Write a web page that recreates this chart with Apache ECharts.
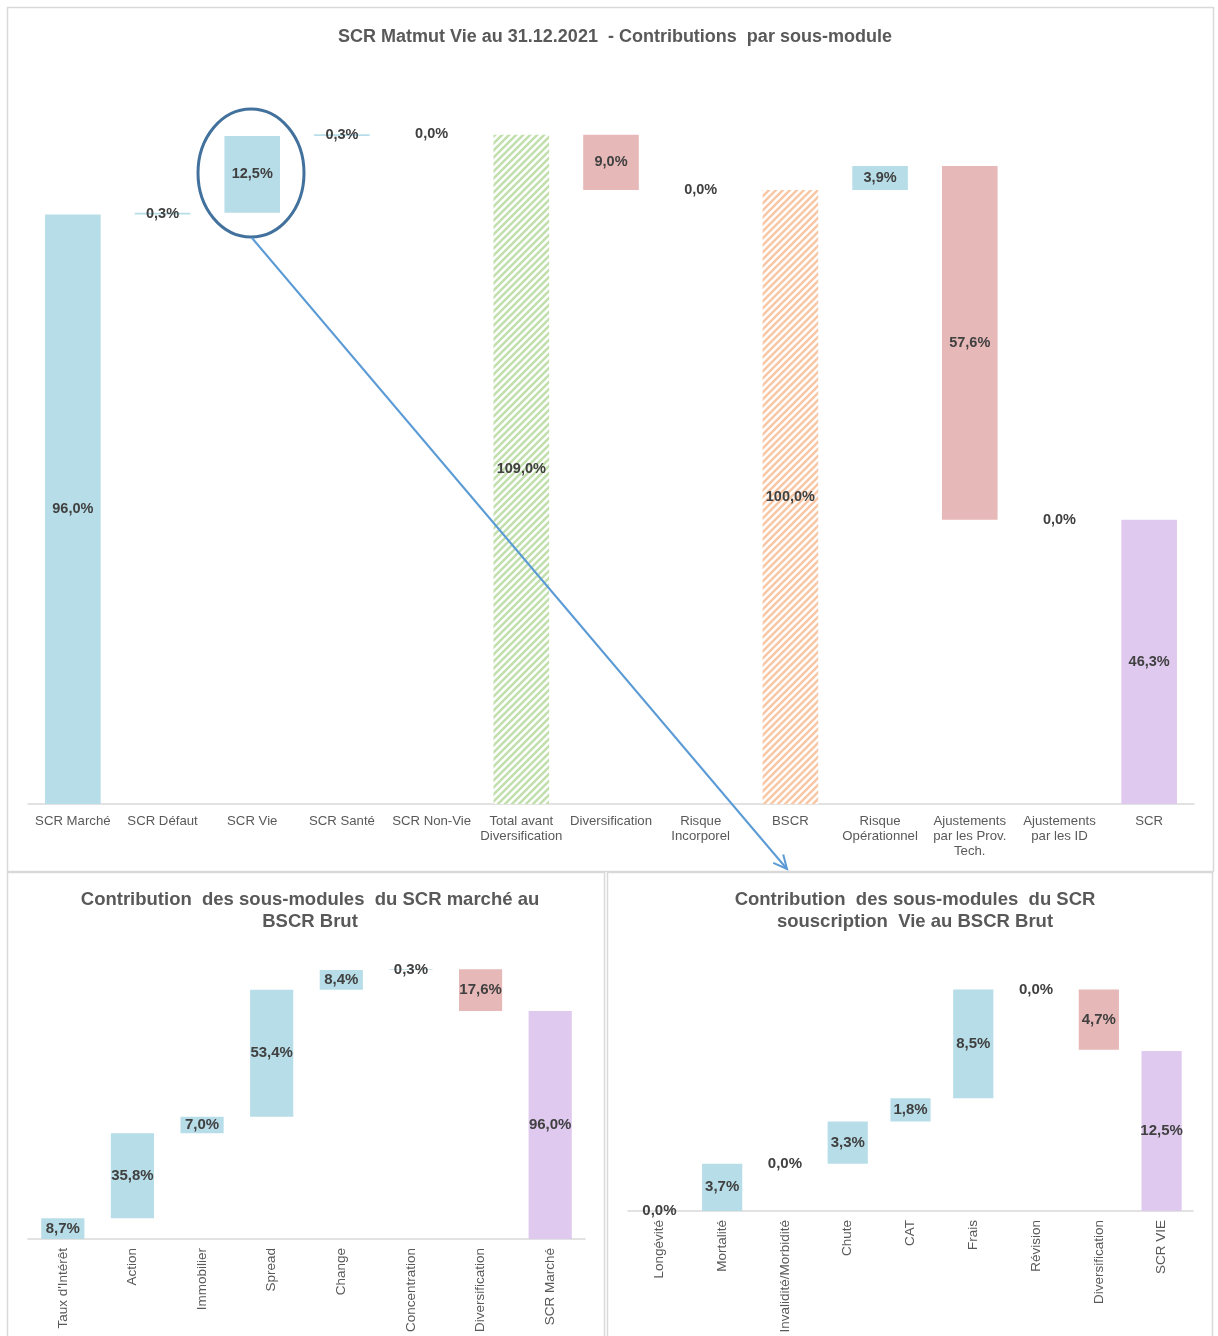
<!DOCTYPE html>
<html>
<head>
<meta charset="utf-8">
<script src="https://cdn.jsdelivr.net/npm/echarts@6/dist/echarts.min.js"></script>
<style>
  html, body { margin: 0; padding: 0; background: #fff; }
  #main { width: 1218px; height: 1336px; }
</style>
</head>
<body>
<div id="main"></div>
<script>
// --- Données ---
const topCategories = ['SCR Marché', 'SCR Défaut', 'SCR Vie', 'SCR Santé', 'SCR Non-Vie',
  'Total avant\nDiversification', 'Diversification', 'Risque\nIncorporel', 'BSCR',
  'Risque\nOpérationnel', 'Ajustements\npar les Prov.\nTech.', 'Ajustements\npar les ID', 'SCR']
const topValues = [96.0, 0.3, 12.5, 0.3, 0.0, 109.0, 9.0, 0.0, 100.0, 3.9, 57.6, 0.0, 46.3]
const topKinds = ['up', 'up', 'up', 'up', 'up', 'total', 'down', 'up', 'total', 'up', 'down', 'up', 'total']
const topColors = ['blue', 'blue', 'blue', 'blue', 'blue', 'green', 'red', 'blue', 'orange', 'blue', 'red', 'blue', 'purple']

const marcheCategories = ['Taux d\'Intérêt', 'Action', 'Immobilier', 'Spread', 'Change', 'Concentration', 'Diversification', 'SCR Marché']
const marcheValues = [8.7, 35.8, 7.0, 53.4, 8.4, 0.3, 17.6, 96.0]
const marcheKinds = ['up', 'up', 'up', 'up', 'up', 'up', 'down', 'total']
const marcheColors = ['blue', 'blue', 'blue', 'blue', 'blue', 'blue', 'red', 'purple']

const vieCategories = ['Longévité', 'Mortalité', 'Invalidité/Morbidité', 'Chute', 'CAT', 'Frais', 'Révision', 'Diversification', 'SCR VIE']
const vieValues = [0.0, 3.7, 0.0, 3.3, 1.8, 8.5, 0.0, 4.7, 12.5]
const vieKinds = ['up', 'up', 'up', 'up', 'up', 'up', 'up', 'down', 'total']
const vieColors = ['blue', 'blue', 'blue', 'blue', 'blue', 'blue', 'blue', 'red', 'purple']

// motifs hachurés (Total avant diversification / BSCR)
function hatch(stroke) {
  const c = document.createElement('canvas')
  c.width = 7
  c.height = 7
  const ctx = c.getContext('2d')
  ctx.fillStyle = '#ffffff'
  ctx.fillRect(0, 0, 7, 7)
  ctx.strokeStyle = stroke
  ctx.lineWidth = 2.6
  ctx.beginPath()
  ctx.moveTo(-1, 8); ctx.lineTo(8, -1)
  ctx.moveTo(-1, 1); ctx.lineTo(1, -1)
  ctx.moveTo(6, 8); ctx.lineTo(8, 6)
  ctx.stroke()
  return { image: c, repeat: 'repeat' }
}

const palette = {
  blue: '#b7dde8',
  red: '#e6b8b7',
  purple: '#dfc9ef',
  green: hatch('#c2dfae'),
  orange: hatch('#f8c8a6')
}

const fmt = v => v.toFixed(1).replace('.', ',') + '%'

// base transparente + partie visible
function waterfall(values, kinds) {
  const base = []
  const shown = []
  let level = 0
  values.forEach((v, i) => {
    if (kinds[i] === 'total') {
      base.push(0); shown.push(v); level = v
    } else if (kinds[i] === 'down') {
      level = level - v
      base.push(level); shown.push(v)
    } else {
      base.push(level); shown.push(v); level = level + v
    }
  })
  return { base, shown }
}

function labelStyle(size) {
  return {
    show: true,
    position: 'inside',
    color: '#404040',
    fontFamily: 'Liberation Sans',
    fontWeight: 'bold',
    fontSize: size,
    formatter: p => fmt(p.value)
  }
}

function makeSeries(idx, values, kinds, colors, gap, size) {
  const w = waterfall(values, kinds)
  return [{
    type: 'bar',
    xAxisIndex: idx,
    yAxisIndex: idx,
    stack: 's' + idx,
    silent: true,
    barCategoryGap: gap,
    itemStyle: { color: 'transparent' },
    data: w.base
  }, {
    type: 'bar',
    xAxisIndex: idx,
    yAxisIndex: idx,
    stack: 's' + idx,
    barCategoryGap: gap,
    label: labelStyle(size),
    data: w.shown.map((v, i) => ({ value: v, itemStyle: { color: palette[colors[i]] } }))
  }]
}

const axisLabelBase = {
  interval: 0,
  color: '#595959',
  fontFamily: 'Liberation Sans',
  fontSize: 13.2
}

function xAxis(idx, cats, rotate) {
  return {
    type: 'category',
    gridIndex: idx,
    data: cats,
    axisLine: { lineStyle: { color: '#d9d9d9', width: 1.5 } },
    axisTick: { show: false },
    axisLabel: rotate
      ? Object.assign({}, axisLabelBase, { rotate: 90, margin: 9, fontSize: 13.5 })
      : Object.assign({}, axisLabelBase, { margin: 10, lineHeight: 15 })
  }
}

function yAxis(idx, max) {
  return {
    type: 'value',
    gridIndex: idx,
    min: 0,
    max: max,
    show: false,
    splitLine: { show: false }
  }
}

// flèche SCR Vie -> graphique du bas
const arrowFrom = [252, 238]
const arrowTo = [787, 869]
function arrowHead() {
  const dx = arrowTo[0] - arrowFrom[0]
  const dy = arrowTo[1] - arrowFrom[1]
  const a = Math.atan2(dy, dx)
  const len = 15
  const spread = 0.45
  const p1 = [arrowTo[0] - len * Math.cos(a - spread), arrowTo[1] - len * Math.sin(a - spread)]
  const p2 = [arrowTo[0] - len * Math.cos(a + spread), arrowTo[1] - len * Math.sin(a + spread)]
  return [p1, arrowTo, p2]
}

const titleText = {
  color: '#595959',
  fontFamily: 'Liberation Sans',
  fontWeight: 'bold'
}

const option = {
  animation: false,
  backgroundColor: '#ffffff',
  title: [{
    text: 'SCR Matmut Vie au 31.12.2021  - Contributions  par sous-module',
    left: 610,
    top: 23,
    textAlign: 'center',
    textStyle: Object.assign({}, titleText, { fontSize: 18 })
  }, {
    text: 'Contribution  des sous-modules  du SCR marché au\nBSCR Brut',
    left: 305,
    top: 884,
    textAlign: 'center',
    textStyle: Object.assign({}, titleText, { fontSize: 18.5, lineHeight: 22 })
  }, {
    text: 'Contribution  des sous-modules  du SCR\nsouscription  Vie au BSCR Brut',
    left: 910,
    top: 884,
    textAlign: 'center',
    textStyle: Object.assign({}, titleText, { fontSize: 18.5, lineHeight: 22 })
  }],
  grid: [
    { left: 28, width: 1166, top: 128.6, bottom: 532 },
    { left: 28, width: 557, top: 954, bottom: 97 },
    { left: 628, width: 565, top: 955, bottom: 125 }
  ],
  xAxis: [
    xAxis(0, topCategories, false),
    xAxis(1, marcheCategories, true),
    xAxis(2, vieCategories, true)
  ],
  yAxis: [yAxis(0, 110), yAxis(1, 120), yAxis(2, 20)],
  series: [
    ...makeSeries(0, topValues, topKinds, topColors, '38%', 14.5),
    ...makeSeries(1, marcheValues, marcheKinds, marcheColors, '38%', 15),
    ...makeSeries(2, vieValues, vieKinds, vieColors, '36%', 15)
  ],
  graphic: [
    { type: 'rect', z: -1, shape: { x: 7.5, y: 7.5, width: 1206, height: 864 },
      style: { fill: 'none', stroke: '#d9d9d9', lineWidth: 1.5 } },
    { type: 'rect', z: -1, shape: { x: 7.5, y: 872.5, width: 597, height: 480 },
      style: { fill: 'none', stroke: '#d9d9d9', lineWidth: 1.5 } },
    { type: 'rect', z: -1, shape: { x: 607.5, y: 872.5, width: 605, height: 480 },
      style: { fill: 'none', stroke: '#d9d9d9', lineWidth: 1.5 } },
    { type: 'ellipse', z: 100, shape: { cx: 251, cy: 173, rx: 53, ry: 64 },
      style: { fill: 'none', stroke: '#41719c', lineWidth: 3 } },
    { type: 'line', z: 100, shape: { x1: arrowFrom[0], y1: arrowFrom[1], x2: arrowTo[0], y2: arrowTo[1] },
      style: { stroke: '#5b9bd5', lineWidth: 2 } },
    { type: 'polyline', z: 100, shape: { points: arrowHead() },
      style: { fill: 'none', stroke: '#5b9bd5', lineWidth: 2 } }
  ]
}

const myChart = echarts.init(document.getElementById('main'))
myChart.setOption(option)
</script>
</body>
</html>
